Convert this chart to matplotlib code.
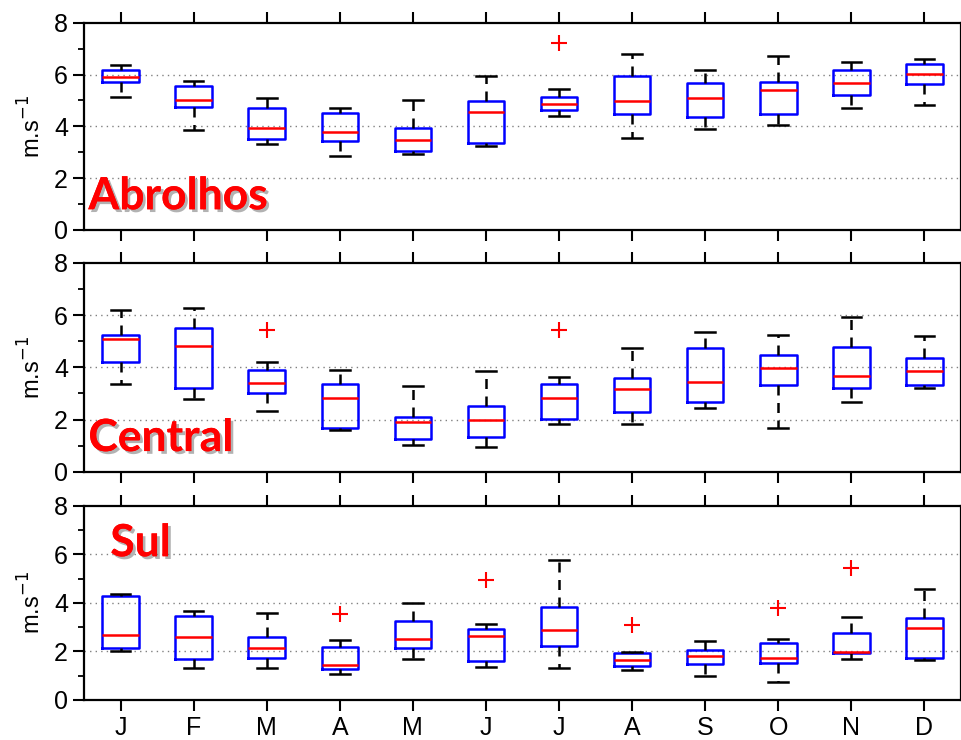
import matplotlib
matplotlib.use("Agg")
import matplotlib.pyplot as plt
import matplotlib.patheffects as pe
from matplotlib.ticker import MultipleLocator

# Meses e estatisticas (m.s-1): [whislo, q1, med, q3, whishi]
meses = ["J", "F", "M", "A", "M", "J", "J", "A", "S", "O", "N", "D"]

abrolhos = [
    [5.13, 5.72, 5.90, 6.16, 6.35],
    [3.85, 4.73, 5.02, 5.56, 5.74],
    [3.31, 3.51, 3.94, 4.72, 5.08],
    [2.84, 3.42, 3.77, 4.50, 4.72],
    [2.92, 3.04, 3.47, 3.94, 5.03],
    [3.23, 3.34, 4.55, 4.98, 5.94],
    [4.39, 4.63, 4.85, 5.13, 5.43],
    [3.56, 4.46, 4.98, 5.93, 6.79],
    [3.88, 4.37, 5.09, 5.68, 6.17],
    [4.04, 4.46, 5.40, 5.70, 6.73],
    [4.72, 5.21, 5.68, 6.19, 6.48],
    [4.84, 5.63, 6.02, 6.41, 6.61],
]
abrolhos_out = [[], [], [], [], [], [], [7.23], [], [], [], [], []]

central = [
    [3.37, 4.20, 5.10, 5.23, 6.18],
    [2.79, 3.22, 4.82, 5.52, 6.28],
    [2.33, 3.03, 3.42, 3.91, 4.20],
    [1.59, 1.67, 2.84, 3.37, 3.88],
    [1.02, 1.25, 1.90, 2.09, 3.27],
    [0.97, 1.34, 2.00, 2.52, 3.87],
    [1.84, 2.04, 2.84, 3.37, 3.64],
    [1.84, 2.29, 3.17, 3.59, 4.73],
    [2.46, 2.66, 3.45, 4.73, 5.36],
    [1.70, 3.33, 3.96, 4.48, 5.25],
    [2.66, 3.21, 3.66, 4.77, 5.93],
    [3.21, 3.32, 3.87, 4.35, 5.18],
]
central_out = [[], [], [5.43], [], [], [], [5.41], [], [], [], [], []]

sul = [
    [2.00, 2.16, 2.67, 4.30, 4.36],
    [1.33, 1.68, 2.58, 3.47, 3.68],
    [1.33, 1.71, 2.12, 2.59, 3.60],
    [1.07, 1.27, 1.42, 2.18, 2.47],
    [1.68, 2.12, 2.53, 3.27, 4.00],
    [1.37, 1.59, 2.63, 2.93, 3.11],
    [1.32, 2.22, 2.88, 3.82, 5.78],
    [1.22, 1.41, 1.64, 1.92, 1.99],
    [1.00, 1.47, 1.82, 2.04, 2.44],
    [0.74, 1.51, 1.73, 2.36, 2.52],
    [1.68, 1.92, 1.99, 2.74, 3.42],
    [1.64, 1.73, 2.97, 3.38, 4.59],
]
sul_out = [[], [], [], [3.53], [], [4.96], [], [3.10], [], [3.77], [5.45], []]

regioes = ["Abrolhos", "Central", "Sul"]
dados = [abrolhos, central, sul]
outliers = [abrolhos_out, central_out, sul_out]

plt.rcParams["font.family"] = ["Liberation Sans", "DejaVu Sans"]

fig = plt.figure(figsize=(9.61, 7.4), dpi=100)
# posicoes dos paineis [left, bottom, width, height]
posicoes = [
    [0.0874, 0.6892, 0.9126, 0.2801],
    [0.0874, 0.3622, 0.9126, 0.2828],
    [0.0874, 0.0541, 0.9126, 0.2625],
]
# posicao do titulo de cada painel (fracao dos eixos)
pos_titulo = [(0.005, 0.10), (0.005, 0.10), (0.03, 0.74)]

for k in range(3):
    ax = fig.add_axes(posicoes[k])
    stats = []
    for s, fl in zip(dados[k], outliers[k]):
        stats.append(dict(whislo=s[0], q1=s[1], med=s[2], q3=s[3], whishi=s[4], fliers=fl))
    ax.bxp(stats, positions=range(1, 13), widths=0.5, capwidths=0.27,
           boxprops=dict(color="#0000ff", linewidth=1.8),
           medianprops=dict(color="#ff0000", linewidth=1.8),
           whiskerprops=dict(color="black", linewidth=1.8, linestyle=(0, (4, 3))),
           capprops=dict(color="black", linewidth=1.8),
           flierprops=dict(marker="+", markeredgecolor="#ff0000", markersize=11,
                           markeredgewidth=1.5))

    ax.set_xlim(0.5, 12.5)
    ax.set_ylim(0, 8)
    ax.set_xticks(range(1, 13))
    if k == 2:
        ax.set_xticklabels(meses)
    else:
        ax.set_xticklabels([])
    ax.yaxis.set_major_locator(MultipleLocator(2))
    ax.yaxis.set_minor_locator(MultipleLocator(1))
    ax.tick_params(axis="both", which="major", direction="out", length=8, width=1.5,
                   labelsize=18, top=True)
    ax.tick_params(axis="y", which="minor", direction="out", length=4, width=1.3)
    for sp in ax.spines.values():
        sp.set_linewidth(1.6)
    for yv in [2, 4, 6]:
        ax.axhline(yv, color="gray", linestyle=(0, (1, 3)), linewidth=1, zorder=0)
    ax.set_ylabel("m.s$^{-1}$", fontsize=17, labelpad=6)

    ax.text(pos_titulo[k][0], pos_titulo[k][1], regioes[k], transform=ax.transAxes,
            fontsize=32, fontweight="bold", color="red", family=["Lato", "DejaVu Sans"],
            path_effects=[pe.withSimplePatchShadow(offset=(2, -2), shadow_rgbFace="gray",
                                                   alpha=0.6), pe.Normal()])

fig.savefig("out.png", dpi=100)
